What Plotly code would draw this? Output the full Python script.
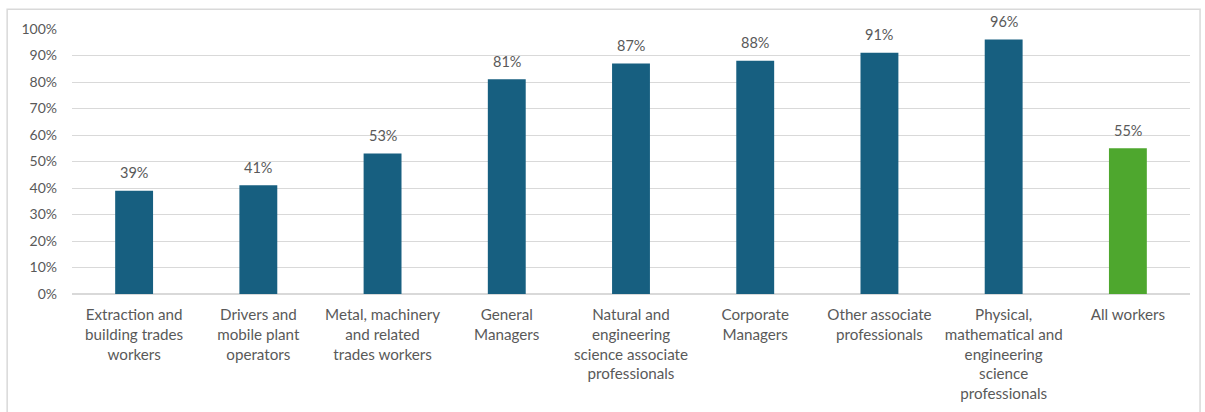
import plotly.graph_objects as go

categories = [
    "Extraction and<br>building trades<br>workers",
    "Drivers and<br>mobile plant<br>operators",
    "Metal, machinery<br>and related<br>trades workers",
    "General<br>Managers",
    "Natural and<br>engineering<br>science associate<br>professionals",
    "Corporate<br>Managers",
    "Other associate<br>professionals",
    "Physical,<br>mathematical and<br>engineering<br>science<br>professionals",
    "All workers",
]
values = [39, 41, 53, 81, 87, 88, 91, 96, 55]
value_labels = ["39%", "41%", "53%", "81%", "87%", "88%", "91%", "96%", "55%"]
y_ticks = [0, 10, 20, 30, 40, 50, 60, 70, 80, 90, 100]
y_tick_labels = [f"{t}%" for t in y_ticks]

blue = "#175f80"
green = "#4ea72e"
colors = [blue] * 8 + [green]
font_family = "Lato, 'Open Sans', sans-serif"
text_color = "#595959"

fig = go.Figure()
fig.add_trace(go.Bar(
    x=categories,
    y=values,
    marker=dict(color=colors, line=dict(width=0)),
    hoverinfo="skip",
))

for c, v, lab in zip(categories, values, value_labels):
    fig.add_annotation(x=c, y=v, text=lab, showarrow=False, yshift=18,
                       font=dict(family=font_family, size=14.5, color=text_color))

fig.add_shape(type="rect", xref="paper", yref="paper",
              x0=-0.058, x1=1.009, y0=-0.7, y1=1.075,
              line=dict(color="#d9d9d9", width=1.5), fillcolor="rgba(0,0,0,0)", layer="below")

fig.update_layout(
    width=1205, height=412,
    margin=dict(l=72, r=15, t=29, b=118, autoexpand=False),
    paper_bgcolor="white", plot_bgcolor="white",
    bargap=0.695,
    showlegend=False,
    font=dict(family=font_family, size=14, color=text_color),
)
fig.update_xaxes(
    showgrid=False, showline=False, ticks="", automargin=False,
    tickfont=dict(family=font_family, size=15.2, color=text_color),
    ticklabelstandoff=10,
)
fig.update_yaxes(
    range=[0, 100], tickvals=y_ticks, ticktext=y_tick_labels, automargin=False,
    showgrid=True, gridcolor="#d9d9d9", gridwidth=1.2,
    zeroline=True, zerolinecolor="#d9d9d9", zerolinewidth=1.5,
    showline=False, ticks="",
    tickfont=dict(family=font_family, size=14, color=text_color),
    ticklabelstandoff=14,
)

fig.write_html("out.html")
